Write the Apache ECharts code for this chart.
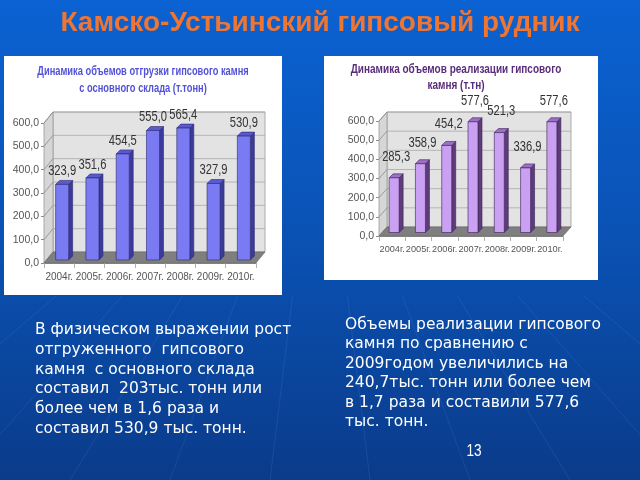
<!DOCTYPE html>
<html><head><meta charset="utf-8">
<script src="https://cdn.jsdelivr.net/npm/echarts@6/dist/echarts.min.js"></script>
<style>html,body{margin:0;padding:0;background:#0b4fb0}#c{width:640px;height:480px}</style>
</head><body><div id="c"></div>
<script>
// ---- data ----
const years = ['2004г.','2005г.','2006г.','2007г.','2008г.','2009г.','2010г.'];
const shipped = [323.9, 351.6, 454.5, 555.0, 565.4, 327.9, 530.9];
const sold = [285.3, 358.9, 454.2, 577.6, 521.3, 336.9, 577.6];
const yTicks = [0, 100, 200, 300, 400, 500, 600];
const slideTitle = 'Камско-Устьинский гипсовый рудник';
const leftTitle = ['Динамика объемов отгрузки гипсового камня', 'с основного склада (т.тонн)'];
const rightTitle = ['Динамика объемов реализации гипсового', 'камня (т.тн)'];
const leftText = ['В физическом выражении рост', 'отгруженного  гипсового', 'камня  с основного склада', 'составил  203тыс. тонн или', 'более чем в 1,6 раза и', 'составил 530,9 тыс. тонн.'];
const rightText = ['Объемы реализации гипсового', 'камня по сравнению с', '2009годом увеличились на', '240,7тыс. тонн или более чем', 'в 1,7 раза и составили 577,6', 'тыс. тонн.'];
const pageNo = '13';

const SANS = "'Liberation Sans',Arial,sans-serif";
const BODY = "'DejaVu Sans',Verdana,sans-serif";
const fmt = v => v.toFixed(1).replace('.', ',');

function frameItem(st) {
  return function (params, api) {
    const cs = params.coordSys;
    const v = api.value(1);
    const y = api.coord([0, v])[1];
    const x0 = cs.x, w = cs.width, yb = cs.y + cs.height, yt = cs.y;
    const dx = st.dx, dy = st.dy;
    const ch = [];
    if (params.dataIndex === 0) {
      ch.push({type: 'rect', shape: {x: x0 + dx, y: yt - dy, width: w, height: cs.height},
        style: {fill: '#e3e3e3', stroke: '#9a9a9a', lineWidth: 0.8}});
      ch.push({type: 'polygon', shape: {points: [[x0, yb], [x0, yt], [x0 + dx, yt - dy], [x0 + dx, yb - dy]]},
        style: {fill: '#d6d6d6', stroke: '#9a9a9a', lineWidth: 0.8}});
    }
    ch.push({type: 'line', shape: {x1: x0 + dx, y1: y - dy, x2: x0 + w + dx, y2: y - dy},
      style: {stroke: '#a8a8a8', lineWidth: 0.8}});
    ch.push({type: 'line', shape: {x1: x0, y1: y, x2: x0 + dx, y2: y - dy},
      style: {stroke: '#8a8a8a', lineWidth: 0.8}});
    if (params.dataIndex === 0) {
      ch.push({type: 'polygon', shape: {points: [[x0, yb], [x0 + w, yb], [x0 + w + dx, yb - dy], [x0 + dx, yb - dy]]},
        style: {fill: '#7f7f7f', stroke: '#6a6a6a', lineWidth: 0.6}});
    }
    return {type: 'group', children: ch};
  };
}

function barItem(st) {
  return function (params, api) {
    const i = api.value(0), v = api.value(1);
    const base = api.coord([i, 0]), tip = api.coord([i, v]);
    const bw = api.size([1, 0])[0] * st.ratio;
    const xl = base[0] - bw / 2 + st.ox, xr = xl + bw;
    const yb = base[1] - st.oy, yt = tip[1] - st.oy;
    const d = st.bd;
    return {type: 'group', children: [
      {type: 'polygon', shape: {points: [[xr, yt], [xr + d, yt - d], [xr + d, yb - d], [xr, yb]]},
        style: {fill: st.side, stroke: st.edge, lineWidth: 0.6}},
      {type: 'polygon', shape: {points: [[xl, yt], [xl + d, yt - d], [xr + d, yt - d], [xr, yt]]},
        style: {fill: st.top, stroke: st.edge, lineWidth: 0.6}},
      {type: 'rect', shape: {x: xl, y: yt, width: bw, height: yb - yt},
        style: {fill: st.front, stroke: st.edge, lineWidth: 0.6}},
      {type: 'text', x: (xl + xr) / 2 + st.lx, y: yt - st.ly, scaleX: 0.8,
        style: {text: fmt(v), align: 'center', verticalAlign: 'middle', fill: '#333',
          fontSize: 14, fontFamily: SANS}}
    ]};
  };
}

const charts = [
  {grid: {left: 44, top: 123, width: 212, height: 140}, data: shipped, xFont: 10,
   frame: {dx: 9, dy: 11},
   bar: {ratio: 0.43, ox: 3, oy: 3, bd: 4, lx: 0, ly: 13,
         front: '#7a7af2', side: '#3b3b9c', top: '#5a5ad0', edge: '#2a2a6e'}},
  {grid: {left: 379, top: 121, width: 184, height: 115}, data: sold, xFont: 9.2,
   frame: {dx: 8, dy: 9},
   bar: {ratio: 0.38, ox: 2, oy: 3.5, bd: 4, lx: 2, ly: 21,
         front: '#c9a0f2', side: '#5e3c7c', top: '#9c70c8', edge: '#3a2050'}}
];

// faint decorative slide lines (background pattern)
const deco = [];
[-300, -160, -40, 70, 170, 270, 370, 470, 570, 680, 800, 940].forEach(xb => {
  deco.push({type: 'line', z: -20, silent: true,
    shape: {x1: 320 + (xb - 320) * 0.55, y1: 296, x2: xb, y2: 480},
    style: {stroke: 'rgba(140,185,255,0.12)', lineWidth: 1}});
});

const option = {
  animation: false,
  backgroundColor: {type: 'linear', x: 0, y: 0, x2: 0, y2: 1, colorStops: [
    {offset: 0, color: '#0b62d2'}, {offset: 0.5, color: '#0a52b4'}, {offset: 1, color: '#0a3b8a'}]},
  title: {text: slideTitle, left: 'center', top: 4,
    textStyle: {color: '#ef7532', fontSize: 28, fontWeight: 'bold', fontFamily: SANS}},
  grid: [], xAxis: [], yAxis: [], series: [],
  graphic: deco.concat([
    {type: 'rect', z: -10, shape: {x: 4, y: 56, width: 278, height: 239}, style: {fill: '#ffffff'}},
    {type: 'rect', z: -10, shape: {x: 324, y: 56, width: 274, height: 224}, style: {fill: '#ffffff'}},
    {type: 'text', x: 143, y: 63, scaleX: 0.745, style: {text: leftTitle.join('\n'), align: 'center', verticalAlign: 'top', lineHeight: 17,
      fill: '#5252d8', fontSize: 12.5, fontWeight: 'bold', fontFamily: SANS}, z: 5},
    {type: 'text', x: 456, y: 62, scaleX: 0.8, style: {text: rightTitle.join('\n'), align: 'center', verticalAlign: 'top', lineHeight: 16,
      fill: '#5a2d7a', fontSize: 12.5, fontWeight: 'bold', fontFamily: SANS}, z: 5},
    {type: 'text', x: 35, y: 320, style: {text: leftText.join('\n'), lineHeight: 19.8, verticalAlign: 'top',
      fill: '#ffffff', fontSize: 15.5, fontFamily: BODY}, z: 5},
    {type: 'text', x: 345, y: 315, style: {text: rightText.join('\n'), lineHeight: 19.5, verticalAlign: 'top',
      fill: '#ffffff', fontSize: 15.5, fontFamily: BODY}, z: 5},
    {type: 'text', x: 474, y: 452, scaleX: 0.85, style: {text: pageNo, align: 'center', verticalAlign: 'middle',
      fill: '#ffffff', fontSize: 16, fontFamily: SANS}, z: 5}
  ])
};

charts.forEach((c, k) => {
  option.grid.push(Object.assign({containLabel: false}, c.grid));
  option.xAxis.push({type: 'category', gridIndex: k, data: years,
    axisLine: {show: true, lineStyle: {color: '#8a8a8a'}},
    axisTick: {show: true, length: 5, lineStyle: {color: '#b0b0b0'}},
    axisLabel: {margin: 9, color: '#555', fontSize: c.xFont, fontFamily: SANS, interval: 0}});
  option.yAxis.push({type: 'value', gridIndex: k, min: 0, max: 600, interval: 100,
    axisLine: {show: true, lineStyle: {color: '#8a8a8a'}},
    axisTick: {show: true, length: 3, lineStyle: {color: '#8a8a8a'}},
    splitLine: {show: false},
    axisLabel: {margin: 5, color: '#555', fontSize: 10.5, fontFamily: SANS, formatter: v => fmt(v)}});
  option.series.push({type: 'custom', xAxisIndex: k, yAxisIndex: k, z: 1, silent: true,
    renderItem: frameItem(c.frame), data: yTicks.map(v => [0, v]), clip: false});
  option.series.push({type: 'custom', xAxisIndex: k, yAxisIndex: k, z: 3, silent: true,
    renderItem: barItem(c.bar), data: c.data.map((v, i) => [i, v]), clip: false});
});

const chart = echarts.init(document.getElementById('c'), null, {renderer: 'canvas'});
chart.setOption(option);
</script>
</body></html>
